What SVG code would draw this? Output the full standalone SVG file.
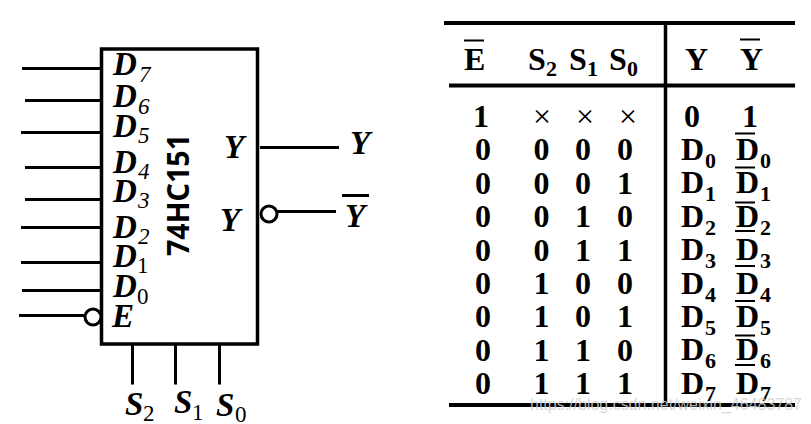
<svg xmlns="http://www.w3.org/2000/svg" width="811" height="424" viewBox="0 0 811 424">
<style>
text{font-family:"Liberation Serif","Times New Roman",serif;fill:#000}
.i{font-style:italic;font-weight:bold;font-size:33px}
.is{font-style:italic;font-size:23px}
.n{font-size:23px;font-weight:normal}
.b{font-weight:bold;font-size:32px}
.bs{font-weight:bold;font-size:22px}
.t{font-weight:bold;font-size:32px;text-anchor:middle}
.x{font-size:32px;text-anchor:middle}
.l{stroke:#000;stroke-width:3;fill:none}
.h{stroke:#000;stroke-width:4;fill:none}
.o{stroke:#000;stroke-width:2;fill:none}
.c{stroke:#000;stroke-width:3;fill:#fff}
</style>
<g id="chip">
<rect x="101.500" y="49" width="156" height="295" fill="#fff" stroke="#000" stroke-width="3.500"/>
<text transform="translate(189,256) rotate(-90)" textLength="122" lengthAdjust="spacingAndGlyphs" style="font-family:'Noto Sans','Open Sans',sans-serif;font-weight:bold;font-size:31px">74HC151</text>
</g>
<g id="connectors">
<path class="l" d="M22 68.500H101M25 100.500H101M21 132.500H101M25 167.500H101M25 199.500H101M21 227.500H101M21 262.500H101M22 290.500H101M19 315.500H85"/>
<path class="l" d="M260 147.500H339M277 211.500H336M132.500 345V384.500M175.500 345V384.500M219.500 345V384.500"/>
</g>
<g id="pin-D7"><text class="i" x="113" y="75">D</text><text class="is" x="139" y="82">7</text></g>
<g id="pin-D6"><text class="i" x="113" y="107">D</text><text class="is" x="138" y="114">6</text></g>
<g id="pin-D5"><text class="i" x="113" y="137">D</text><text class="is" x="138" y="143">5</text></g>
<g id="pin-D4"><text class="i" x="113" y="173">D</text><text class="is" x="138" y="179">4</text></g>
<g id="pin-D3"><text class="i" x="113" y="202">D</text><text class="is" x="138" y="208">3</text></g>
<g id="pin-D2"><text class="i" x="113" y="238">D</text><text class="is" x="138" y="244">2</text></g>
<g id="pin-D1"><text class="i" x="113" y="267">D</text><text class="n" x="137" y="273">1</text></g>
<g id="pin-D0"><text class="i" x="113" y="297">D</text><text class="n" x="137" y="304">0</text></g>
<g id="pin-E"><circle class="c" cx="93" cy="317" r="8"/><text class="i" x="112" y="327">E</text></g>
<g id="pin-Y"><text class="i" x="224" y="158">Y</text></g>
<g id="pin-Yn"><text class="i" x="220" y="231">Y</text><circle class="c" cx="269" cy="214" r="8"/></g>
<g id="out-Y"><text class="i" x="350" y="154">Y</text></g>
<g id="out-Yn"><path class="l" d="M342 195.500H369"/><text class="i" x="345" y="227">Y</text></g>
<g id="sel-S2"><text class="i" x="125" y="415">S</text><text class="n" x="143" y="421">2</text></g>
<g id="sel-S1"><text class="i" x="174" y="413">S</text><text class="n" x="192" y="420">1</text></g>
<g id="sel-S0"><text class="i" x="216" y="416">S</text><text class="n" x="235" y="422">0</text></g>
<g id="table-rules">
<path class="h" d="M444 23H795M449 85.500H795M449 405H795"/>
<path class="l" d="M665.500 23V403" style="stroke-width:3.500"/>
<path class="o" d="M464 40.500H484M740 39.500H760"/>
</g>
<g id="table-header">
<text class="b" x="464" y="70">E</text>
<text class="b" x="528" y="70">S</text><text class="bs" x="546" y="76">2</text>
<text class="b" x="569" y="70">S</text><text class="bs" x="587" y="76">1</text>
<text class="b" x="609" y="70">S</text><text class="bs" x="627" y="76">0</text>
<text class="b" x="685" y="70">Y</text>
<text class="b" x="740" y="70">Y</text>
</g>
<g id="table-inputs">
<text class="t" x="481" y="127">1</text><text class="x" x="542" y="127">×</text><text class="x" x="585" y="127">×</text><text class="x" x="628" y="127">×</text>
<text class="t" x="483" y="160">0</text><text class="t" x="541.500" y="160">0</text><text class="t" x="583" y="160">0</text><text class="t" x="625" y="160">0</text>
<text class="t" x="483" y="194">0</text><text class="t" x="541.500" y="194">0</text><text class="t" x="583" y="194">0</text><text class="t" x="625" y="194">1</text>
<text class="t" x="483" y="227">0</text><text class="t" x="541.500" y="227">0</text><text class="t" x="583" y="227">1</text><text class="t" x="625" y="227">0</text>
<text class="t" x="483" y="261">0</text><text class="t" x="541.500" y="261">0</text><text class="t" x="583" y="261">1</text><text class="t" x="625" y="261">1</text>
<text class="t" x="483" y="294">0</text><text class="t" x="541.500" y="294">1</text><text class="t" x="583" y="294">0</text><text class="t" x="625" y="294">0</text>
<text class="t" x="483" y="327">0</text><text class="t" x="541.500" y="327">1</text><text class="t" x="583" y="327">0</text><text class="t" x="625" y="327">1</text>
<text class="t" x="483" y="361">0</text><text class="t" x="541.500" y="361">1</text><text class="t" x="583" y="361">1</text><text class="t" x="625" y="361">0</text>
<text class="t" x="483" y="394">0</text><text class="t" x="541.500" y="394">1</text><text class="t" x="583" y="394">1</text><text class="t" x="625" y="394">1</text>
</g>
<g id="table-outputs">
<text class="t" x="692" y="127">0</text><text class="t" x="750" y="127">1</text>
<path class="o" d="M735 133.500H755M735 167.500H755M735 202.500H755M735 231H755M735 266H755M735 301H755M735 335.500H755M735 365H755"/>
<text class="b" x="681" y="160">D</text><text class="bs" x="705" y="168">0</text><text class="b" x="736" y="160">D</text><text class="bs" x="760" y="168">0</text>
<text class="b" x="681" y="193">D</text><text class="bs" x="705" y="201">1</text><text class="b" x="736" y="193">D</text><text class="bs" x="760" y="201">1</text>
<text class="b" x="681" y="227">D</text><text class="bs" x="705" y="235">2</text><text class="b" x="736" y="227">D</text><text class="bs" x="760" y="235">2</text>
<text class="b" x="681" y="260">D</text><text class="bs" x="705" y="268">3</text><text class="b" x="736" y="260">D</text><text class="bs" x="760" y="268">3</text>
<text class="b" x="681" y="294">D</text><text class="bs" x="705" y="302">4</text><text class="b" x="736" y="294">D</text><text class="bs" x="760" y="302">4</text>
<text class="b" x="681" y="327">D</text><text class="bs" x="705" y="335">5</text><text class="b" x="736" y="327">D</text><text class="bs" x="760" y="335">5</text>
<text class="b" x="681" y="360">D</text><text class="bs" x="705" y="368">6</text><text class="b" x="736" y="360">D</text><text class="bs" x="760" y="368">6</text>
<text class="b" x="681" y="394">D</text><text class="bs" x="705" y="401">7</text><text class="b" x="736" y="394">D</text><text class="bs" x="760" y="401">7</text>
</g>
<text x="530" y="410" textLength="272" style="font-family:'Liberation Sans',sans-serif;font-size:16px;fill:#d0d0d0;fill-opacity:.85">https://blog.csdn.net/weixin_46483787</text>
</svg>
